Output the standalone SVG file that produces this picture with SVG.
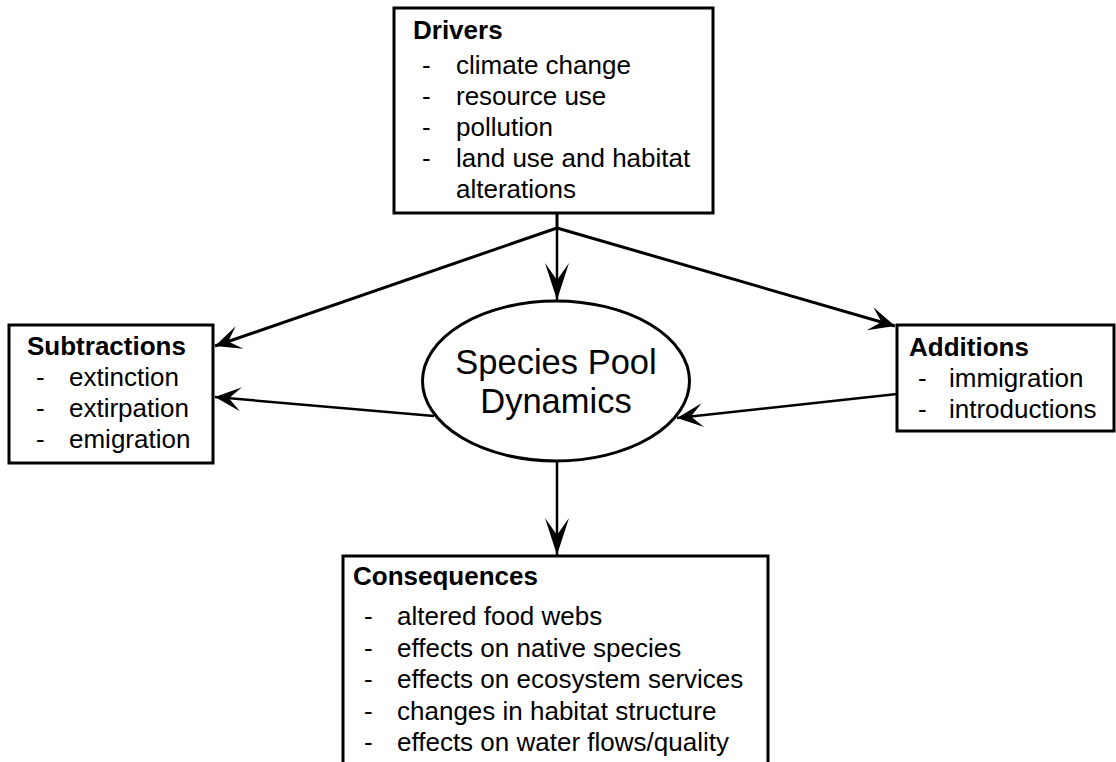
<svg xmlns="http://www.w3.org/2000/svg" width="1116" height="762" viewBox="0 0 1116 762">
  <style>
    .box { fill: #ffffff; stroke: #000000; stroke-width: 3; }
    .t { font-family: "Liberation Sans", Arial, sans-serif; font-size: 26px; fill: #000000; }
    .h { font-family: "Liberation Sans", Arial, sans-serif; font-size: 26px; font-weight: bold; fill: #000000; }
    .c { font-family: "Liberation Sans", Arial, sans-serif; font-size: 34.5px; fill: #000000; text-anchor: middle; }
    .ln { fill: none; stroke: #000000; stroke-width: 3; }
    .ln2 { fill: none; stroke: #000000; stroke-width: 2.5; }
  </style>
  <defs>
    <marker id="arrLong" markerUnits="userSpaceOnUse" markerWidth="40" markerHeight="30" viewBox="-38 -13 40 26" refX="0" refY="0" orient="auto">
      <path d="M0,0 L-37,-12 L-20,0 L-37,12 Z" fill="#000000"/>
    </marker>
    <marker id="arrShort" markerUnits="userSpaceOnUse" markerWidth="30" markerHeight="30" viewBox="-28 -13 30 26" refX="0" refY="0" orient="auto">
      <path d="M0,0 L-26,-12 L-14,0 L-26,12 Z" fill="#000000"/>
    </marker>
  </defs>

  <rect width="1116" height="762" fill="#ffffff"/>

  <g id="connectors">
    <line class="ln" x1="557" y1="213" x2="557" y2="228"/>
    <line class="ln2" x1="557" y1="228" x2="557" y2="300" marker-end="url(#arrLong)"/>
    <line class="ln" x1="557" y1="228" x2="215" y2="346" marker-end="url(#arrShort)"/>
    <line class="ln" x1="557" y1="228" x2="895" y2="326" marker-end="url(#arrShort)"/>
    <line class="ln2" x1="434" y1="416" x2="215" y2="397" marker-end="url(#arrShort)"/>
    <line class="ln2" x1="897" y1="394" x2="677" y2="418" marker-end="url(#arrShort)"/>
    <line class="ln2" x1="557" y1="461" x2="557" y2="555" marker-end="url(#arrLong)"/>
  </g>

  <g id="drivers">
    <rect class="box" x="394" y="8" width="319" height="205"/>
    <text class="h" x="413" y="39">Drivers</text>
    <text class="t" x="422" y="74">-</text>
    <text class="t" x="456" y="74">climate change</text>
    <text class="t" x="422" y="105">-</text>
    <text class="t" x="456" y="105">resource use</text>
    <text class="t" x="422" y="136">-</text>
    <text class="t" x="456" y="136">pollution</text>
    <text class="t" x="422" y="167">-</text>
    <text class="t" x="456" y="167">land use and habitat</text>
    <text class="t" x="456" y="198">alterations</text>
  </g>

  <g id="subtractions">
    <rect class="box" x="9" y="325" width="204" height="138"/>
    <text class="h" x="27" y="355">Subtractions</text>
    <text class="t" x="36" y="386">-</text>
    <text class="t" x="69" y="386">extinction</text>
    <text class="t" x="36" y="417">-</text>
    <text class="t" x="69" y="417">extirpation</text>
    <text class="t" x="36" y="448">-</text>
    <text class="t" x="69" y="448">emigration</text>
  </g>

  <g id="additions">
    <rect class="box" x="897" y="325" width="217" height="106"/>
    <text class="h" x="909" y="356">Additions</text>
    <text class="t" x="918" y="387">-</text>
    <text class="t" x="949" y="387">immigration</text>
    <text class="t" x="918" y="418">-</text>
    <text class="t" x="949" y="418">introductions</text>
  </g>

  <g id="species-pool">
    <ellipse class="box" cx="556" cy="381" rx="133.5" ry="80"/>
    <text class="c" x="556" y="374">Species Pool</text>
    <text class="c" x="556" y="413">Dynamics</text>
  </g>

  <g id="consequences">
    <rect class="box" x="343" y="556" width="425" height="220"/>
    <text class="h" x="353" y="585">Consequences</text>
    <text class="t" x="364" y="625">-</text>
    <text class="t" x="397" y="625">altered food webs</text>
    <text class="t" x="364" y="656.5">-</text>
    <text class="t" x="397" y="656.5">effects on native species</text>
    <text class="t" x="364" y="688">-</text>
    <text class="t" x="397" y="688">effects on ecosystem services</text>
    <text class="t" x="364" y="719.5">-</text>
    <text class="t" x="397" y="719.5">changes in habitat structure</text>
    <text class="t" x="364" y="751">-</text>
    <text class="t" x="397" y="751">effects on water flows/quality</text>
  </g>
</svg>
